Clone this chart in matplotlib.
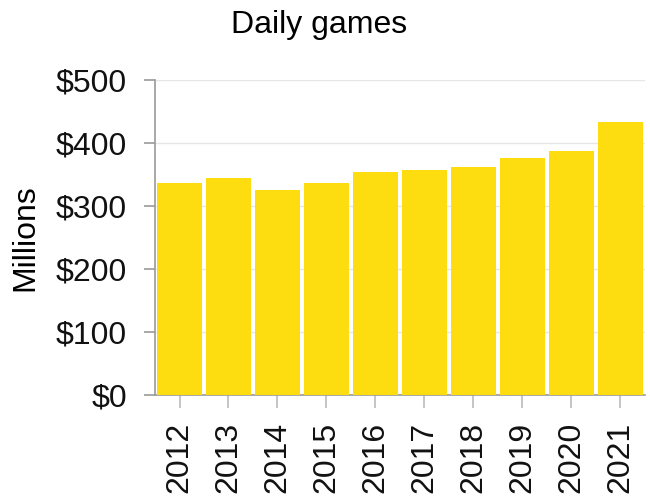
import numpy as np
import matplotlib; matplotlib.use("Agg")
import matplotlib.pyplot as plt

years = ["2012", "2013", "2014", "2015", "2016", "2017", "2018", "2019", "2020", "2021"]
revenue = [337, 344, 325, 337, 354, 357, 362, 376, 388, 433]
yticks = [0, 100, 200, 300, 400, 500]
ytick_labels = ["$0", "$100", "$200", "$300", "$400", "$500"]

BAR = "#FEDD10"; GRAY = "#9a9a9a"
plt.rcParams["font.family"] = ["Liberation Sans", "DejaVu Sans"]

fig = plt.figure(figsize=(6.5, 4.96), dpi=100)
ax = fig.add_axes([0.2385, 0.2036, 0.7535, 0.635])
x = np.arange(len(years))
ax.bar(x, revenue, width=0.92, color=BAR, zorder=3)
ax.set_xlim(-0.5, len(years) - 0.5); ax.set_ylim(0, 500)
ax.set_yticks(yticks); ax.set_yticklabels(ytick_labels, fontsize=23, color="#111111")
ax.set_xticks(x); ax.set_xticklabels(years, rotation=90, fontsize=23, color="#111111")
ax.grid(axis="y", color="#e6e6e6", linewidth=1, zorder=0)
for s in ["top", "right"]: ax.spines[s].set_visible(False)
for s in ["left", "bottom"]: ax.spines[s].set_color(GRAY); ax.spines[s].set_linewidth(1.2)
ax.tick_params(axis="y", length=8, width=1.2, color=GRAY, pad=12)
ax.tick_params(axis="x", length=9, width=1.2, color="#bbbbbb", pad=10)
ax.set_ylabel("Millions", fontsize=23, labelpad=11)
fig.text(319 / 650, 1 - 25 / 496, "Daily games", ha="center", va="center", fontsize=23)
fig.savefig("out.png", dpi=100)
